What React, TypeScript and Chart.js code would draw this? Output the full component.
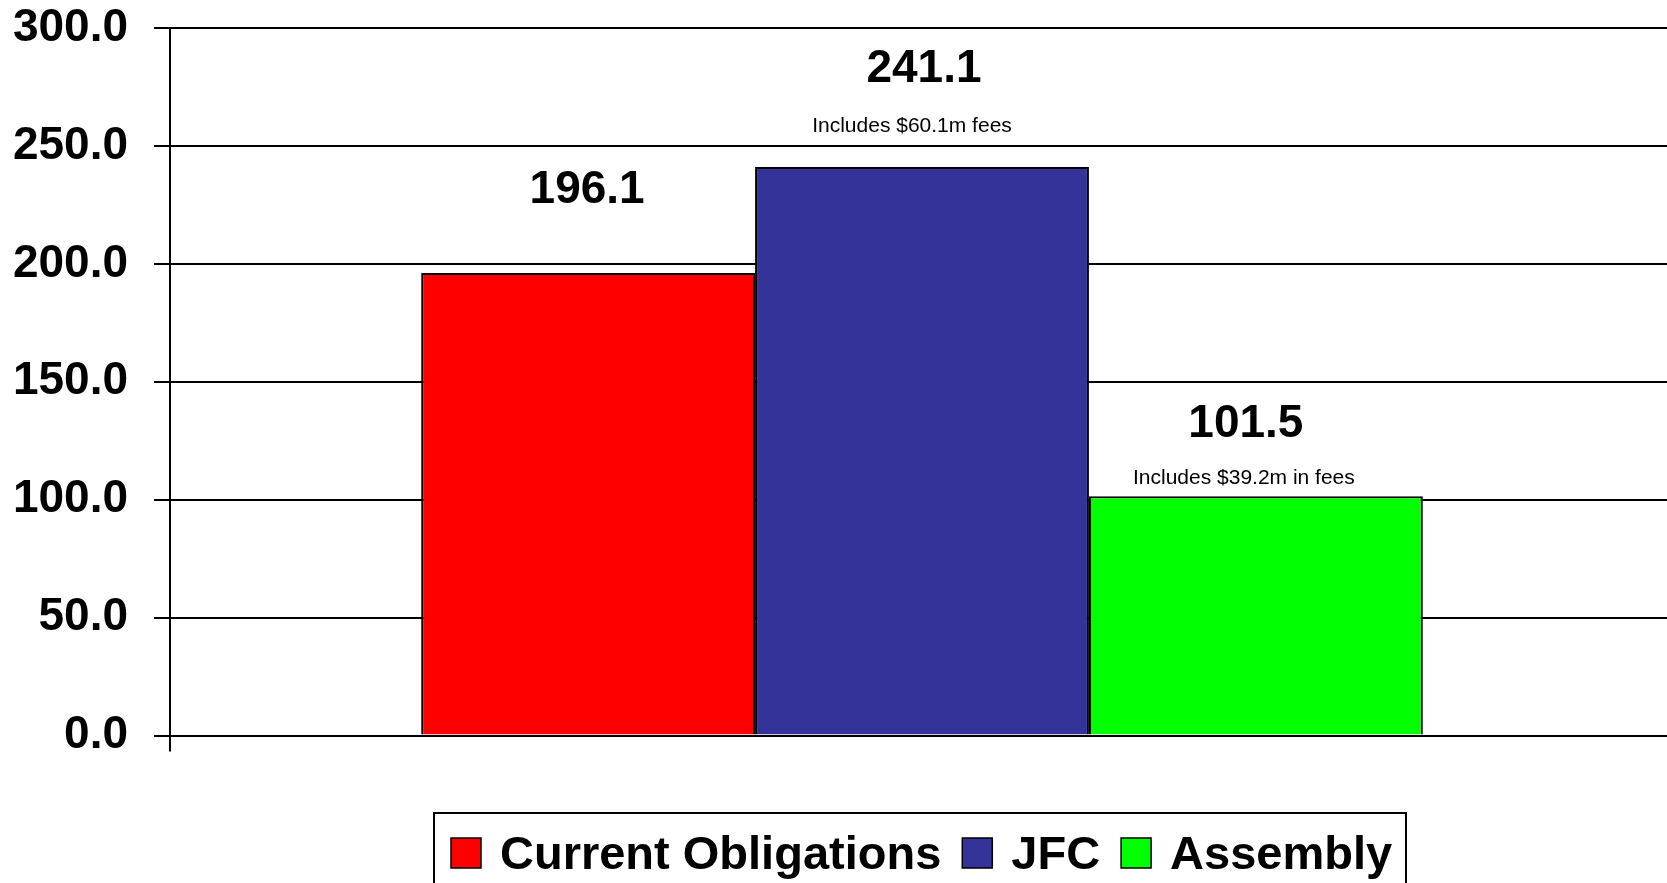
import React, { useEffect, useRef } from "react";
import { Chart, registerables } from "chart.js";

Chart.register(...registerables);

const categories = [""];
const seriesNames = ["Current Obligations", "JFC", "Assembly"];
const seriesValues = [196.1, 241.1, 101.5];
const seriesColors = ["#FF0000", "#333399", "#00FF00"];
const seriesNotes = ["", "Includes $60.1m fees", "Includes $39.2m in fees"];
const yTicks = [0, 50, 100, 150, 200, 250, 300];

const FONT = "'Liberation Sans', Arial, Helvetica, sans-serif";

const labelPlugin = {
  id: "valueLabels",
  afterDatasetsDraw(chart: any) {
    const ctx = chart.ctx;
    const valueOffset = [70, 85, 59];
    const valueDx = [-1, 2, -10];
    const noteOffset = [0, 35, 12];
    const noteDx = [0, -10, -12];
    ctx.save();
    ctx.fillStyle = "#000";
    ctx.textAlign = "center";
    ctx.textBaseline = "alphabetic";
    chart.data.datasets.forEach((ds: any, i: number) => {
      const meta = chart.getDatasetMeta(i);
      const bar = meta.data[0];
      if (!bar) return;
      ctx.font = `bold 46px ${FONT}`;
      ctx.fillText(Number(ds.data[0]).toFixed(1), bar.x + valueDx[i], bar.y - valueOffset[i]);
      if (seriesNotes[i]) {
        ctx.font = `21px ${FONT}`;
        ctx.fillText(seriesNotes[i], bar.x + noteDx[i], bar.y - noteOffset[i]);
      }
    });
    ctx.restore();
  },
};

const legendPlugin = {
  id: "boxLegend",
  afterDraw(chart: any) {
    const ctx = chart.ctx;
    ctx.save();
    ctx.strokeStyle = "#000";
    ctx.lineWidth = 2;
    ctx.strokeRect(434, 813, 972, 120);
    ctx.font = `bold 47px ${FONT}`;
    ctx.textAlign = "left";
    ctx.textBaseline = "alphabetic";
    let x = 451;
    const sw = 30;
    chart.data.datasets.forEach((ds: any) => {
      ctx.fillStyle = ds.backgroundColor;
      ctx.fillRect(x, 838, sw, sw);
      ctx.lineWidth = 1.5;
      ctx.strokeStyle = "#000";
      ctx.strokeRect(x, 838, sw, sw);
      x += sw + 19;
      ctx.fillStyle = "#000";
      ctx.fillText(ds.label, x, 869);
      x += ctx.measureText(ds.label).width + 21;
    });
    ctx.restore();
  },
};

export default function App() {
  const ref = useRef<HTMLCanvasElement | null>(null);
  useEffect(() => {
    if (!ref.current) return;
    Chart.defaults.font.family = FONT;
    const chart = new Chart(ref.current, {
      type: "bar",
      data: {
        labels: categories,
        datasets: seriesNames.map((name, i) => ({
          label: name,
          data: [seriesValues[i]],
          backgroundColor: seriesColors[i],
          borderColor: "#000",
          borderWidth: 2,
          barPercentage: 1,
          categoryPercentage: 0.666,
        })),
      },
      options: {
        animation: false,
        responsive: false,
        maintainAspectRatio: false,
        devicePixelRatio: 1,
        layout: { padding: { left: 13, top: 28, right: 0, bottom: 131.5 } },
        plugins: {
          legend: { display: false },
          tooltip: { enabled: false },
          title: { display: false },
        },
        scales: {
          x: {
            ticks: { display: false },
            grid: {
              drawOnChartArea: false,
              drawTicks: true,
              tickLength: 16,
              lineWidth: 2,
              color: (c: any) => (c.index === 0 ? "#000" : "rgba(0,0,0,0)"),
            },
            border: { display: true, color: "#000", width: 2 },
          },
          y: {
            min: 0,
            max: 300,
            afterBuildTicks: (scale: any) => {
              scale.ticks = yTicks.map((v) => ({ value: v }));
            },
            afterFit: (scale: any) => {
              scale.width = 157;
              scale.paddingTop = 0;
              scale.paddingBottom = 0;
            },
            ticks: {
              color: "#000",
              padding: 26,
              font: { size: 46, weight: "bold", family: FONT },
              callback: (v: any) => Number(v).toFixed(1),
            },
            grid: {
              color: "#000",
              lineWidth: 2,
              tickLength: 16,
              drawTicks: true,
            },
            border: { display: true, color: "#000", width: 2 },
          },
        },
      },
      plugins: [labelPlugin, legendPlugin],
    });
    return () => chart.destroy();
  }, []);
  return (
    <div
      style={{
        position: "fixed",
        left: 0,
        top: 0,
        width: 1667,
        height: 883,
        overflow: "hidden",
        background: "#fff",
      }}
    >
      <canvas ref={ref} width={1674} height={883} style={{ display: "block" }} />
    </div>
  );
}
